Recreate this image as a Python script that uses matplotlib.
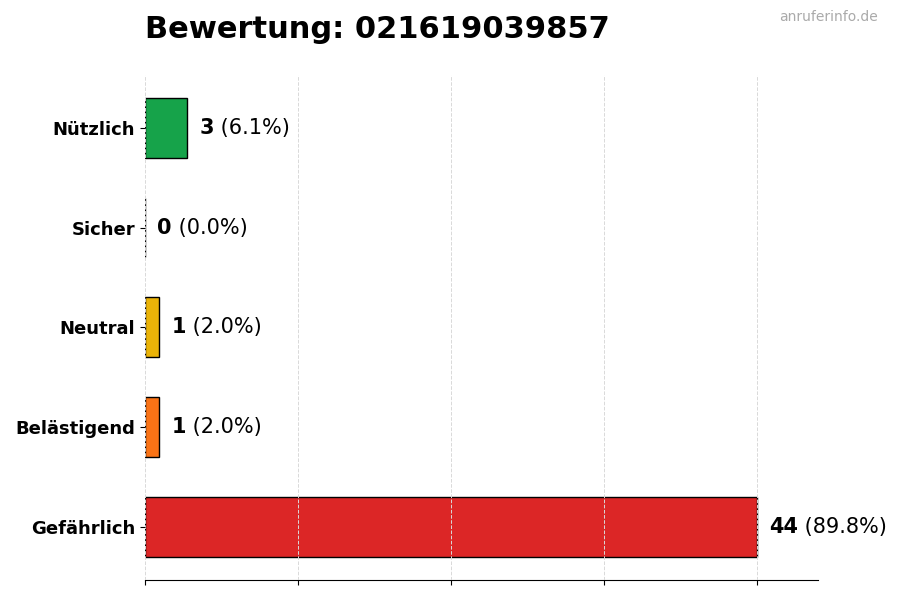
import numpy as np
import matplotlib
matplotlib.use('Agg')
import matplotlib.pyplot as plt

# Data (bottom to top)
categories = ['Gefährlich', 'Belästigend', 'Neutral', 'Sicher', 'Nützlich']
counts = [44, 1, 1, 0, 3]
colors = ['#dc2626', '#f97316', '#eab308', '#9ca3af', '#16a34a']
title = 'Bewertung: 021619039857'
watermark = 'anruferinfo.de'

total = sum(counts)
vmax = max(counts)

fig = plt.figure(figsize=(9, 6), dpi=100)
ax = fig.add_axes([0.161, 0.034, 0.748, 0.841])

y = np.arange(len(categories))
ax.barh(y, counts, height=0.6, color=colors, edgecolor='black', linewidth=1, zorder=2)

ax.set_yticks(y)
ax.set_yticklabels(categories, fontsize=13, fontweight='bold')
ax.set_xticks(np.linspace(0, vmax, 5))
ax.set_xticklabels([])
ax.set_xlim(0, vmax * 1.1)

for s in ['top', 'right', 'left']:
    ax.spines[s].set_visible(False)
ax.xaxis.grid(True, linestyle='--', color='#d9d9d9', linewidth=0.7, zorder=3)
ax.set_axisbelow(False)

# value labels: bold count + normal percentage
for yi, c in zip(y, counts):
    pct = c / total * 100
    t1 = ax.annotate(str(c), xy=(c, yi), xytext=(9, 0), textcoords='offset points',
                     va='center', ha='left', fontsize=15, fontweight='bold')
    ax.annotate(f' ({pct:.1f}%)', xy=(1, 0), xycoords=t1, va='bottom', ha='left',
                fontsize=15)

fig.text(0.161, 0.95, title, fontsize=22, fontweight='bold', ha='left', va='center')
fig.text(0.975, 0.972, watermark, fontsize=10, color='#aaaaaa', ha='right', va='center')

fig.savefig('out.png', dpi=100)
